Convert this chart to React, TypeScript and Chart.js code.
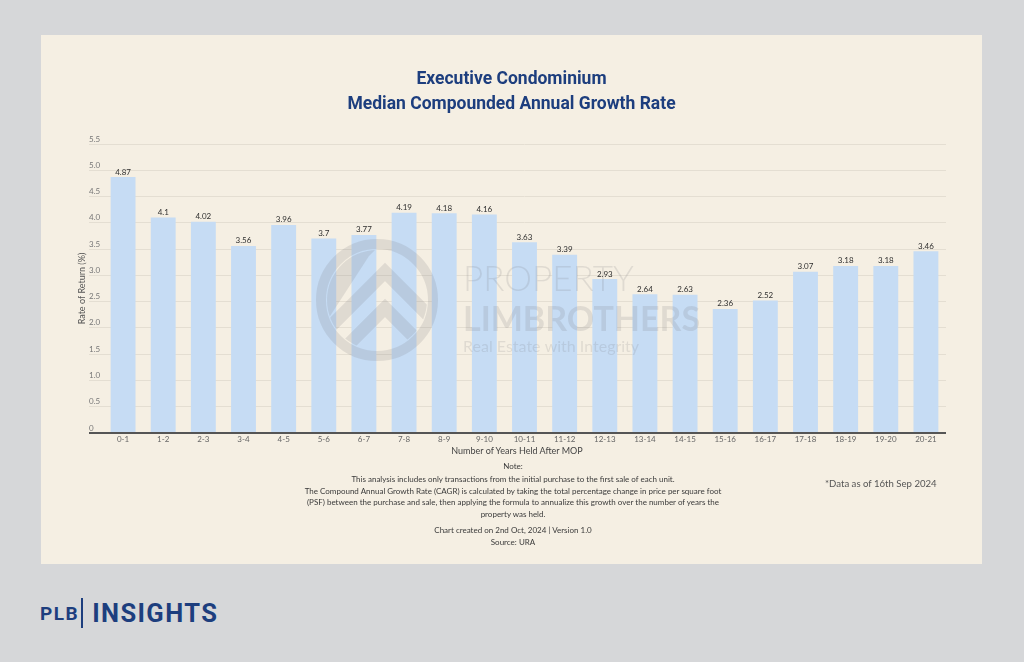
import React, { useEffect, useRef } from 'react';
import { Chart, registerables } from 'chart.js';

Chart.register(...registerables);

const CATEGORIES = ['0-1', '1-2', '2-3', '3-4', '4-5', '5-6', '6-7', '7-8', '8-9', '9-10', '10-11', '11-12', '12-13', '13-14', '14-15', '15-16', '16-17', '17-18', '18-19', '19-20', '20-21'];
const RATES = [4.87, 4.1, 4.02, 3.56, 3.96, 3.7, 3.77, 4.19, 4.18, 4.16, 3.63, 3.39, 2.93, 2.64, 2.63, 2.36, 2.52, 3.07, 3.18, 3.18, 3.46];
const Y_TICK_LABELS = ['0', '0.5', '1.0', '1.5', '2.0', '2.5', '3.0', '3.5', '4.0', '4.5', '5.0', '5.5'];
const TITLE_LINES = ['Executive Condominium', 'Median Compounded Annual Growth Rate'];
const X_TITLE = 'Number of Years Held After MOP';
const Y_TITLE = 'Rate of Return (%)';
const NOTE_LINES = [
  'This analysis includes only transactions from the initial purchase to the first sale of each unit.',
  'The Compound Annual Growth Rate (CAGR) is calculated by taking the total percentage change in price per square foot',
  '(PSF) between the purchase and sale, then applying the formula to annualize this growth over the number of years the',
  'property was held.',
];
const CREDIT_LINES = ['Chart created on 2nd Oct, 2024 | Version 1.0', 'Source: URA'];
const DATA_NOTE = '*Data as of 16th Sep 2024';

const BLUE = '#1d3e7e';

const watermarkPlugin = {
  id: 'watermark',
  afterDatasetsDraw(chart: any) {
    const ctx = chart.ctx as CanvasRenderingContext2D;
    const col = 'rgba(110,115,120,0.16)';
    ctx.save();
    const cx = 335, cy = 264;
    ctx.strokeStyle = col;
    ctx.lineWidth = 10;
    ctx.beginPath();
    ctx.arc(cx, cy, 56, 0, Math.PI * 2);
    ctx.stroke();
    ctx.save();
    ctx.beginPath();
    ctx.arc(cx, cy, 50, 0, Math.PI * 2);
    ctx.clip();
    ctx.lineWidth = 13;
    ctx.lineJoin = 'miter';
    ctx.beginPath();
    ctx.moveTo(cx - 60, cy + 40);
    ctx.lineTo(cx + 8, cy - 28);
    ctx.lineTo(cx + 70, cy + 34);
    ctx.stroke();
    ctx.beginPath();
    ctx.moveTo(cx - 40, cy + 56);
    ctx.lineTo(cx + 8, cy + 8);
    ctx.lineTo(cx + 60, cy + 60);
    ctx.stroke();
    ctx.fillStyle = col;
    ctx.beginPath();
    ctx.moveTo(cx - 56, cy + 30);
    ctx.lineTo(cx - 56, cy - 56);
    ctx.lineTo(cx + 4, cy - 56);
    ctx.lineTo(cx - 8, cy - 44);
    ctx.closePath();
    ctx.fill();
    ctx.restore();

    ctx.fillStyle = col;
    ctx.textBaseline = 'middle';
    ctx.textAlign = 'left';
    ctx.font = '300 35px Lato';
    ctx.fillText('PROPERTY', 421, 244);
    ctx.font = '700 34px Lato';
    ctx.fillText('LIMBROTHERS', 421, 284);
    ctx.font = '400 16px Lato';
    ctx.fillText('Real Estate with Integrity', 421, 311);
    ctx.restore();
  },
};

const valueLabelPlugin = {
  id: 'valueLabels',
  afterDatasetsDraw(chart: any) {
    const ctx = chart.ctx as CanvasRenderingContext2D;
    const meta = chart.getDatasetMeta(0);
    ctx.save();
    ctx.font = '8px Lato';
    ctx.fillStyle = '#2e2e2e';
    ctx.textAlign = 'center';
    ctx.textBaseline = 'alphabetic';
    meta.data.forEach((bar: any, i: number) => {
      ctx.fillText(String(RATES[i]), bar.x, bar.y - 2.5);
    });
    ctx.restore();
  },
};

function CagrChart() {
  const ref = useRef<HTMLCanvasElement>(null);
  useEffect(() => {
    if (!ref.current) return;
    const chart = new Chart(ref.current, {
      type: 'bar',
      data: {
        labels: CATEGORIES,
        datasets: [
          {
            data: RATES,
            backgroundColor: '#c6dcf4',
            borderWidth: 0,
            barPercentage: 1,
            categoryPercentage: 0.62,
          },
        ],
      },
      plugins: [watermarkPlugin, valueLabelPlugin],
      options: {
        responsive: false,
        animation: false,
        devicePixelRatio: 1,
        layout: { padding: { left: 35, right: 36, top: 0, bottom: 23 } },
        plugins: {
          legend: { display: false },
          tooltip: { enabled: false },
          title: {
            display: true,
            text: TITLE_LINES,
            color: BLUE,
            font: { family: 'Roboto', size: 17.5, weight: 'bold', lineHeight: '25px' },
            padding: { top: 31.5, bottom: 26.5 },
          },
        },
        scales: {
          x: {
            grid: { display: false, drawTicks: false },
            border: { display: false },
            ticks: {
              color: '#666',
              font: { family: 'Lato', size: 8 },
              padding: 2,
              maxRotation: 0,
              autoSkip: false,
            },
            afterFit: (s: any) => {
              s.height = 20;
            },
          },
          y: {
            min: 0,
            max: 5.5,
            border: { display: false },
            grid: {
              color: (c: any) => (c.tick && c.tick.value === 0 ? '#555555' : '#e4ded2'),
              lineWidth: (c: any) => (c.tick && c.tick.value === 0 ? 2 : 1),
              drawTicks: true,
              tickLength: 14,
            },
            ticks: {
              stepSize: 0.5,
              mirror: true,
              padding: -14,
              labelOffset: -5,
              color: '#777',
              font: { family: 'Lato', size: 8 },
              callback: (_v: any, i: number) => Y_TICK_LABELS[i],
            },
            title: {
              display: true,
              text: Y_TITLE,
              color: '#555',
              font: { family: 'Lato', size: 9 },
              padding: 0,
            },
            afterFit: (s: any) => {
              s.width = 26;
            },
          },
        },
      } as any,
    });
    return () => chart.destroy();
  }, []);
  return (
    <canvas
      ref={ref}
      width={940}
      height={440}
      style={{ position: 'absolute', left: 42, top: 36, width: 940, height: 440 }}
    />
  );
}

export default function App() {
  const small: React.CSSProperties = {
    fontFamily: 'Lato, sans-serif',
    fontSize: 8,
    color: '#3a3a3a',
    whiteSpace: 'nowrap',
  };
  return (
    <div
      style={{
        position: 'fixed',
        left: 0,
        top: 0,
        width: 1024,
        height: 662,
        background: '#d6d7d9',
        overflow: 'hidden',
      }}
    >
      <div
        style={{
          position: 'absolute',
          left: 41,
          top: 35,
          width: 941,
          height: 529,
          background: '#f5efe3',
        }}
      />
      <CagrChart />
      <div
        style={{
          position: 'absolute',
          left: 0,
          width: 1034,
          top: 445,
          textAlign: 'center',
          fontFamily: 'Lato, sans-serif',
          fontSize: 9,
          lineHeight: '12px',
          color: '#444',
        }}
      >
        {X_TITLE}
      </div>
      <div
        style={{
          position: 'absolute',
          left: 0,
          width: 1026,
          top: 461,
          textAlign: 'center',
          lineHeight: '11.7px',
          ...small,
        }}
      >
        <div style={{ marginBottom: 1.3 }}>Note:</div>
        {NOTE_LINES.map((l) => (
          <div key={l}>{l}</div>
        ))}
        <div style={{ marginTop: 4.3 }}>{CREDIT_LINES[0]}</div>
        <div>{CREDIT_LINES[1]}</div>
      </div>
      <div
        style={{
          position: 'absolute',
          left: 825,
          top: 478,
          lineHeight: '12px',
          ...small,
          fontSize: 9.6,
          color: '#555',
        }}
      >
        {DATA_NOTE}
      </div>
      <div
        style={{
          position: 'absolute',
          left: 40,
          top: 598,
          height: 30,
          display: 'flex',
          alignItems: 'center',
          fontFamily: 'Roboto, sans-serif',
          fontWeight: 700,
          color: BLUE,
        }}
      >
        <span style={{ fontSize: 19, letterSpacing: 1.5 }}>PLB</span>
        <span
          style={{
            display: 'inline-block',
            width: 2,
            height: 30,
            background: BLUE,
            margin: '0 9px 0 2px',
          }}
        />
        <span style={{ fontSize: 25.5, letterSpacing: 1.4 }}>INSIGHTS</span>
      </div>
    </div>
  );
}
